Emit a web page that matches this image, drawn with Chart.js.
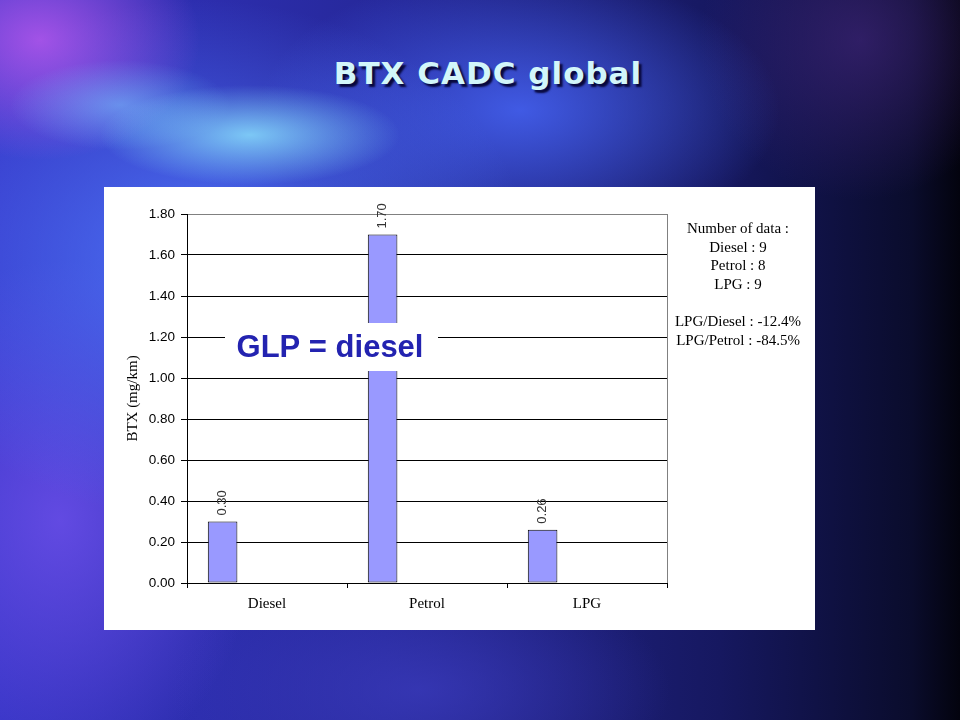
<!DOCTYPE html>
<html>
<head>
<meta charset="utf-8">
<title>BTX CADC global</title>
<script src="https://cdn.jsdelivr.net/npm/chart.js@4.4.0/dist/chart.umd.min.js"></script>
<style>
  html, body { margin: 0; padding: 0; width: 960px; height: 720px; overflow: hidden; }
  body {
    position: relative;
    background:
      radial-gradient(ellipse 150px 50px at 250px 135px, rgba(140,230,255,0.8), rgba(140,230,255,0) 100%),
      radial-gradient(ellipse 110px 45px at 120px 105px, rgba(120,200,255,0.55), rgba(120,200,255,0) 100%),
      radial-gradient(ellipse 160px 120px at 40px 40px, rgba(190,90,240,0.8), rgba(190,90,240,0) 100%),
      radial-gradient(ellipse 330px 260px at 200px 260px, rgba(80,120,255,0.9), rgba(80,120,255,0) 100%),
      radial-gradient(ellipse 260px 140px at 520px 110px, rgba(70,100,245,0.85), rgba(70,100,245,0) 100%),
      radial-gradient(ellipse 200px 260px at 60px 520px, rgba(110,80,235,0.8), rgba(110,80,235,0) 100%),
      radial-gradient(ellipse 250px 120px at 420px 690px, rgba(60,60,190,0.7), rgba(60,60,190,0) 100%),
      radial-gradient(ellipse 160px 160px at 860px 40px, rgba(70,40,130,0.6), rgba(70,40,130,0) 100%),
      linear-gradient(to right, #3434c4 0%, #26289a 40%, #161860 75%, #0a0c2c 95%, #03030e 100%);
  }
  #title {
    position: absolute; left: 8px; top: 58px; width: 960px;
    text-align: center;
    font: bold 31px/31px "DejaVu Sans", Verdana, sans-serif;
    letter-spacing: 1px;
    color: #d2f6fa;
    text-shadow: 3px 3px 2px #08083c;
  }
  #panel {
    position: absolute; left: 104px; top: 187px; width: 711px; height: 443px;
    background: #ffffff;
  }
  #panel canvas { display: block; }
</style>
</head>
<body>
<div id="title">BTX CADC global</div>
<div id="panel"><canvas id="chart-1" width="711" height="443"></canvas></div>
<script>
const categories = ['Diesel', 'Petrol', 'LPG'];
const btxValues = [0.30, 1.70, 0.26];
const valueLabels = ['0.30', '1.70', '0.26'];
const emptySeries = [null, null, null];
const yMin = 0;
const yMax = 1.8;
const yStep = 0.2;
const yTitle = 'BTX (mg/km)';
const noteLines = [
  'Number of data :',
  'Diesel : 9',
  'Petrol : 8',
  'LPG : 9',
  '',
  'LPG/Diesel : -12.4%',
  'LPG/Petrol : -84.5%'
];
const calloutText = 'GLP = diesel';

const SERIF = '"Liberation Serif", "Times New Roman", serif';
const SANS = '"Liberation Sans", Arial, sans-serif';

// value labels written vertically above each bar
const barLabels = {
  id: 'barLabels',
  afterDatasetsDraw(chart) {
    const ctx = chart.ctx;
    const meta = chart.getDatasetMeta(0);
    ctx.save();
    ctx.font = '13px ' + SANS;
    ctx.fillStyle = '#333';
    ctx.textAlign = 'left';
    ctx.textBaseline = 'middle';
    meta.data.forEach((bar, i) => {
      ctx.save();
      ctx.translate(bar.x, bar.y - 6);
      ctx.rotate(-Math.PI / 2);
      ctx.fillText(valueLabels[i], 0, 0);
      ctx.restore();
    });
    ctx.restore();
  }
};

// grey right border, notes on the right, and the white callout box
const extras = {
  id: 'extras',
  afterDraw(chart) {
    const ctx = chart.ctx;
    const area = chart.chartArea;
    ctx.save();

    ctx.strokeStyle = '#808080';
    ctx.lineWidth = 1;
    ctx.beginPath();
    ctx.moveTo(Math.round(area.right) + 0.5, area.top);
    ctx.lineTo(Math.round(area.right) + 0.5, area.bottom);
    ctx.stroke();

    ctx.fillStyle = '#000';
    ctx.font = '15px ' + SERIF;
    ctx.textAlign = 'center';
    ctx.textBaseline = 'middle';
    noteLines.forEach((line, i) => {
      ctx.fillText(line, area.right + 71, area.top + 15 + i * 18.7);
    });

    ctx.fillStyle = '#fff';
    ctx.fillRect(area.left + 38, area.top + 109, 213, 48);
    ctx.fillStyle = '#2323b0';
    ctx.font = 'bold 31px ' + SANS;
    ctx.textAlign = 'center';
    ctx.textBaseline = 'alphabetic';
    ctx.fillText(calloutText, area.left + 143, area.top + 143);

    ctx.restore();
  }
};

const ctx = document.getElementById('chart-1').getContext('2d');

new Chart(ctx, {
  type: 'bar',
  data: {
    labels: categories,
    datasets: [
      {
        data: btxValues,
        backgroundColor: '#9999ff',
        borderColor: '#000',
        borderWidth: 1,
        borderSkipped: false,
        inflateAmount: 0
      },
      { data: emptySeries },
      { data: emptySeries },
      { data: emptySeries }
    ]
  },
  options: {
    responsive: false,
    animation: false,
    devicePixelRatio: 1,
    categoryPercentage: 0.74,
    barPercentage: 1,
    layout: { padding: { left: 0, right: 148, top: 27, bottom: 0 } },
    plugins: {
      legend: { display: false },
      tooltip: { enabled: false }
    },
    scales: {
      x: {
        offset: true,
        grid: { offset: true, drawOnChartArea: false, drawTicks: true, tickLength: 5, color: '#000' },
        border: { display: true, color: '#000', width: 1 },
        ticks: { color: '#000', font: { family: SERIF, size: 15 }, padding: 7 },
        afterFit(scale) { scale.height = 47; }
      },
      y: {
        min: yMin,
        max: yMax,
        grid: {
          color: (c) => (c.tick && Math.abs(c.tick.value - yMax) < 1e-6) ? '#808080' : '#000',
          tickColor: '#000',
          tickLength: 6
        },
        border: { display: true, color: '#000', width: 1 },
        ticks: {
          stepSize: yStep,
          color: '#000',
          padding: 6,
          font: { family: SANS, size: 13.5 },
          callback: (v) => Number(v).toFixed(2)
        },
        title: {
          display: true,
          text: yTitle,
          color: '#000',
          font: { family: SERIF, size: 15 },
          padding: { top: 20, bottom: 0 }
        },
        afterFit(scale) { scale.width = 83; }
      }
    }
  },
  plugins: [barLabels, extras]
});
</script>
</body>
</html>
